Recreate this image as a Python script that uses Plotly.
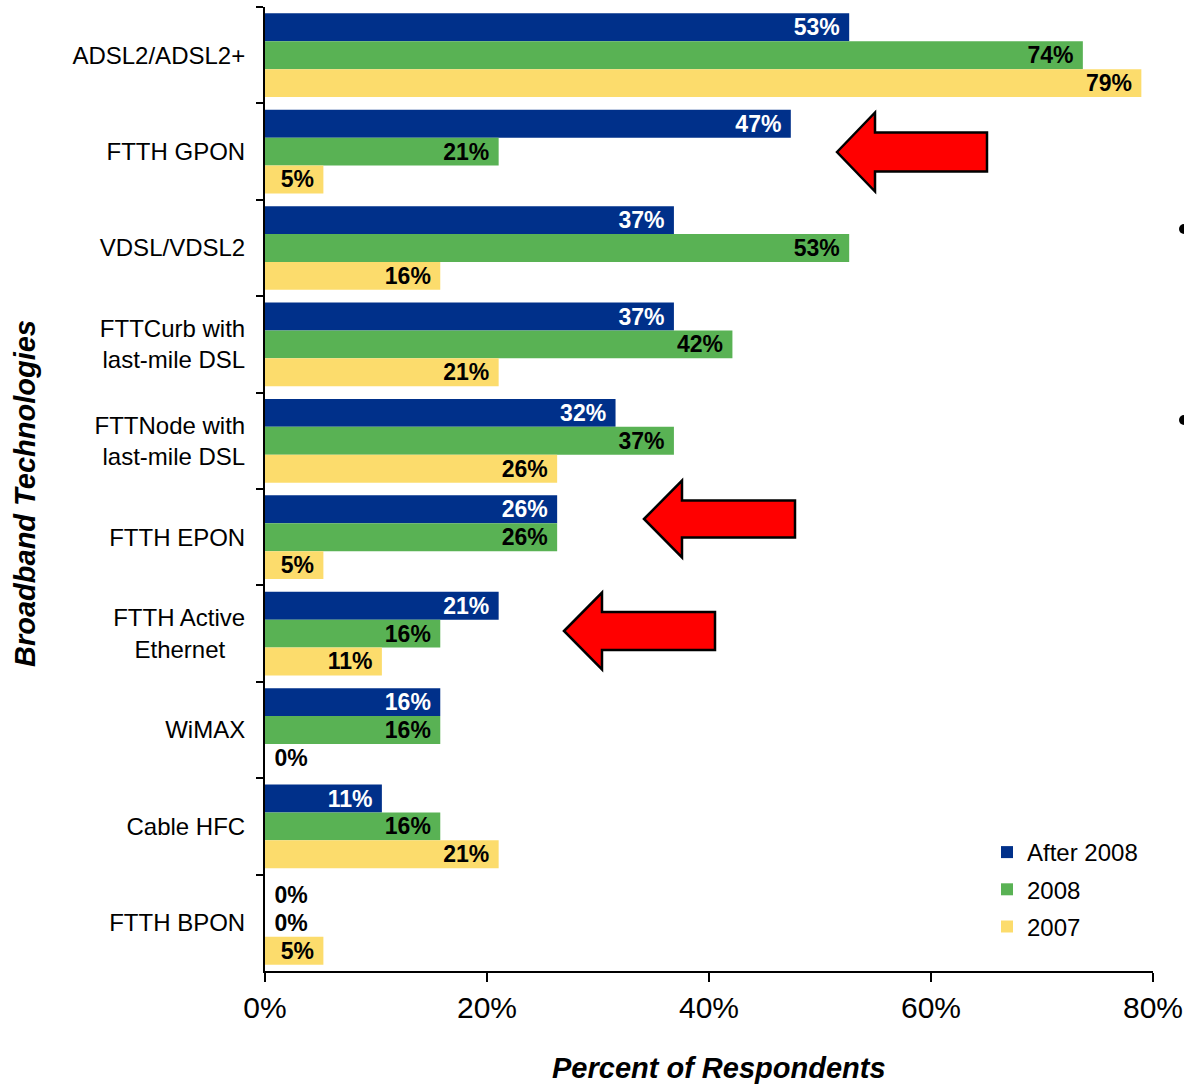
import plotly.graph_objects as go

categories = [
    "ADSL2/ADSL2+",
    "FTTH GPON",
    "VDSL/VDSL2",
    "FTTCurb with<br>last-mile DSL",
    "FTTNode with<br>last-mile DSL",
    "FTTH EPON",
    "FTTH Active<br>Ethernet\u00a0\u00a0\u00a0",
    "WiMAX",
    "Cable HFC",
    "FTTH BPON",
]
series_names = ["After 2008", "2008", "2007"]
after_2008 = [52.63, 47.37, 36.84, 36.84, 31.58, 26.32, 21.05, 15.79, 10.53, 0]
y2008 = [73.68, 21.05, 52.63, 42.11, 36.84, 26.32, 15.79, 15.79, 15.79, 0]
y2007 = [78.95, 5.26, 15.79, 21.05, 26.32, 5.26, 10.53, 0, 21.05, 5.26]
x_tick_vals = [0, 20, 40, 60, 80]
x_tick_text = ["0%", "20%", "40%", "60%", "80%"]

colors = ["#00308A", "#59B254", "#FCDC6C"]
label_colors = ["white", "black", "black"]

W, H = 1184, 1084
L, R, T, B = 265, 1153, 7, 971


def px(x):
    return (x - L) / (R - L)


def py(y):
    return (B - y) / (B - T)


fig = go.Figure()
for name, vals, col, lc in zip(series_names, [after_2008, y2008, y2007], colors, label_colors):
    texts = [(f"{v:.0f}%\u00a0" if v > 0 else f"\u00a0{v:.0f}%") for v in vals]
    pos = ["inside" if v > 0 else "outside" for v in vals]
    fig.add_trace(go.Bar(
        y=categories, x=vals, name=name, orientation="h",
        marker=dict(color=col, line=dict(width=0)),
        text=texts, textposition=pos, insidetextanchor="end",
        insidetextfont=dict(color=lc, size=23, family="Liberation Sans, Arial", weight="bold"),
        outsidetextfont=dict(color="black", size=23, family="Liberation Sans, Arial", weight="bold"),
        textangle=0, cliponaxis=False, legendgroup=name,
        hoverinfo="skip",
    ))

fig.update_layout(
    width=W, height=H, autosize=False,
    margin=dict(l=L, r=W - R, t=T, b=H - B, pad=0, autoexpand=False),
    barmode="group", bargap=0.132, bargroupgap=0,
    plot_bgcolor="white", paper_bgcolor="white",
    font=dict(family="Liberation Sans, Arial", size=24, color="black"),
    uniformtext=dict(minsize=23, mode="show"),
    legend=dict(
        x=px(987), y=py(830), xanchor="left", yanchor="top",
        traceorder="grouped", tracegroupgap=3,
        font=dict(size=24), bgcolor="rgba(0,0,0,0)",
    ),
    xaxis=dict(
        range=[0, 80], tickvals=x_tick_vals, ticktext=x_tick_text,
        showgrid=False, zeroline=False, automargin=False,
        showline=True, linecolor="black", linewidth=2,
        ticks="outside", ticklen=9, tickwidth=2, tickcolor="black",
        tickfont=dict(size=30), fixedrange=True,
    ),
    yaxis=dict(
        autorange="reversed", type="category", automargin=False,
        showgrid=False, zeroline=False,
        showline=True, linecolor="black", linewidth=2,
        ticks="outside", ticklen=7, tickwidth=2, tickcolor="black",
        tickson="boundaries", ticklabelstandoff=13,
        tickfont=dict(size=24),
    ),
)

fig.add_annotation(
    text="<b><i>Percent of Respondents</i></b>", xref="paper", yref="paper",
    x=px(719), y=py(1068), showarrow=False, font=dict(size=29),
    xanchor="center", yanchor="middle",
)
fig.add_annotation(
    text="<b><i>Broadband Technologies</i></b>", xref="paper", yref="paper",
    x=px(25), y=py(494), showarrow=False, font=dict(size=29), textangle=-90,
    xanchor="center", yanchor="middle",
)

# red callout arrows: (tip_x, tip_y, head_base_x, head_half, shaft_half, right_x)
arrows = [
    (837, 152, 875, 39.5, 19.5, 987),
    (644, 519, 682, 38.5, 18.5, 795),
    (564, 631, 602, 38.5, 19.0, 715),
]
for tx, ty, hx, hh, sh, rx in arrows:
    pts = [
        (tx, ty), (hx, ty - hh), (hx, ty - sh), (rx, ty - sh),
        (rx, ty + sh), (hx, ty + sh), (hx, ty + hh),
    ]
    path = "M " + " L ".join(f"{px(a):.5f},{py(b):.5f}" for a, b in pts) + " Z"
    fig.add_shape(type="path", path=path, xref="paper", yref="paper",
                  fillcolor="#FF0000", line=dict(color="black", width=2.5))

# partial bullet points at the right edge (cut-off slide text)
for by in [229, 420]:
    fig.add_shape(type="circle", xref="paper", yref="paper",
                  x0=px(1179), x1=px(1189), y0=py(by - 5), y1=py(by + 5),
                  fillcolor="black", line=dict(width=0))

fig.write_html(
    "out.html",
    config={"displayModeBar": False, "responsive": False},
    post_script="document.body.style.margin='0';document.body.style.overflow='hidden';",
)
